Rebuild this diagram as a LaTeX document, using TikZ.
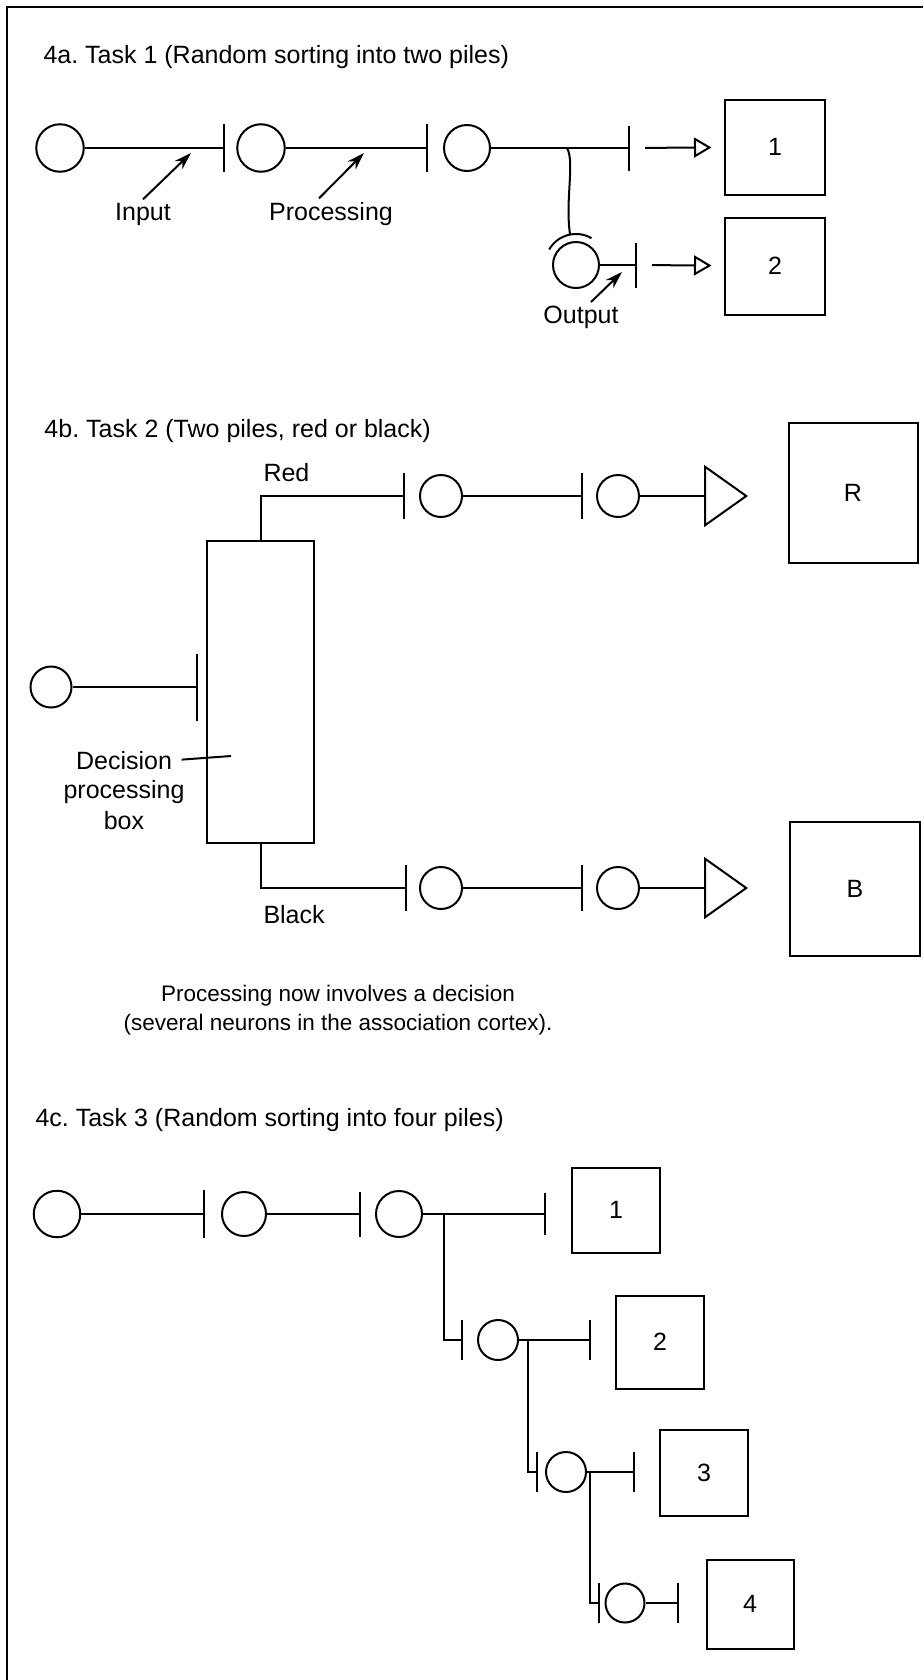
\documentclass[tikz,border=0pt]{standalone}
\usepackage{fontspec}
\setmainfont{Liberation Sans}
\usetikzlibrary{arrows.meta}

\tikzset{
  neuron/.style={circle, draw, minimum size=#1, inner sep=0pt},
  neuron/.default=18.4pt,
  pile/.style={draw, inner sep=0pt, font=\fontsize{10}{12}\selectfont},
  syn/.style={-{Bar[width=#1]}},
  syn/.default=18.4pt,
  fire/.style={-{Triangle[open, length=7pt, width=8pt]}, shorten <=6pt, shorten >=5pt},
  amp/.style={-{Triangle[open, length=17.6pt, width=24.8pt]}},
  pointer/.style={-{Stealth[length=7pt, width=4.5pt]}},
  lab/.style={font=\fontsize{10}{12}\selectfont, inner sep=1pt},
  heading/.style={lab, anchor=base west},
}

\begin{document}
\begin{tikzpicture}[x=0.4pt, y=-0.4pt, line width=0.8pt]
    \useasboundingbox (0,0) rectangle (923,1680);
    % Frame
    \draw[line width=1.1pt] (7,1680) -- (7,7) -- (923,7);

    % 4a: two piles
    \node[heading] (heada) at (40,63) {4a.\ Task 1 (Random sorting into two piles)};
    \node[neuron=19pt] (a1) at (60,148) {};
    \node[neuron=19pt] (a2) at (261,148) {};
    \node[neuron=18.4pt] (a3) at (467,148) {};
    \node[neuron=18.4pt] (a4) at (576,265) {};
    \coordinate (sa1) at (225,148);
    \coordinate (sa2) at (428,148);
    \coordinate (sa3) at (630,148);
    \coordinate (sa4) at (637,265);
    \coordinate (bra) at (567,148);
    \node[pile, minimum width=40pt, minimum height=38pt] (pa1) at (775,147) {1};
    \node[pile, minimum width=40pt, minimum height=38.8pt] (pa2) at (775,266) {2};
    \draw[syn=19.2pt] (a1) -- (sa1);
    \draw[syn=19.2pt] (a2) -- (sa2);
    \draw[syn=18pt] (a3) -- (sa3);
    \draw[syn=18pt] (a4) -- (sa4);
    \draw[fire] (sa3) -- (pa1);
    \draw[fire] (sa4) -- (pa2);
    % collateral onto the second output cell
    \draw (bra) .. controls (575,162) and (565,200) .. (570,234);
    \draw ([shift={(-150:31)}]a4.center) arc[start angle=-150, end angle=-60, radius=31];

    \node[lab, anchor=base] (lin) at (143,220) {Input};
    \node[lab, anchor=base] (lproc) at (331,220) {Processing};
    \node[lab, anchor=base] (lout) at (581,323) {Output};
    \coordinate (hin) at (191,153);
    \coordinate (hproc) at (364,153);
    \coordinate (hout) at (622,272);
    \draw[pointer] (lin.north) -- (hin);
    \draw[pointer] ([xshift=-4.8pt]lproc.north) -- (hproc);
    \draw[pointer] ([xshift=4pt]lout.north) -- (hout);

    % 4b: red or black
    \node[heading] (headb) at (41,437) {4b.\ Task 2 (Two piles, red or black)};
    \node[draw, minimum width=42.8pt, minimum height=120.8pt] (dbox) at (260.5,692) {};
    \node[neuron=16.4pt] (bin) at (51,687) {};
    \coordinate (sbin) at (198,687);
    \draw[syn=26.8pt] (bin) -- (sbin);

    \node[lab, anchor=base west] (lred) at (260,481) {Red};
    \coordinate (sr1) at (405,496);
    \node[neuron=16.8pt] (r1) at (441,496) {};
    \coordinate (sr2) at (583,496);
    \node[neuron=16.8pt] (r2) at (618,496) {};
    \coordinate (tipr) at (748,496);
    \node[pile, minimum width=51.6pt, minimum height=56pt] (pr) at (853,493) {R};
    \draw[syn] (dbox.north) |- (sr1);
    \draw[syn] (r1) -- (sr2);
    \draw[amp] (r2) -- (tipr);

    \node[lab, anchor=base west] (lblack) at (260,923) {Black};
    \coordinate (sb1) at (407,888);
    \node[neuron=16.8pt] (b1) at (441,888) {};
    \coordinate (sb2) at (583,888);
    \node[neuron=16.8pt] (b2) at (618,888) {};
    \coordinate (tipb) at (748,888);
    \node[pile, minimum width=52pt, minimum height=53.6pt] (pb) at (855,889) {B};
    \draw[syn] (dbox.south) |- (sb1);
    \draw[syn] (b1) -- (sb2);
    \draw[amp] (b2) -- (tipb);

    \node[lab, anchor=base] (ldec) at (124,769) {Decision};
    \node[lab, anchor=base] (ldec2) at (124,798) {processing};
    \node[lab, anchor=base] (ldec3) at (124,829) {box};
    \coordinate (hdec) at (231,756);
    \draw[shorten <=2.5pt] (ldec.east) -- (hdec);

    \node[lab, font=\fontsize{9}{11.6}\selectfont, align=center] (note) at (338,1010)
      {Processing now involves a decision\\(several neurons in the association cortex).};

    % 4c: four piles
    \node[heading] (headc) at (32,1126) {4c.\ Task 3 (Random sorting into four piles)};
    \node[neuron=18.6pt] (c1) at (57,1214) {};
    \node[neuron=17.6pt] (c2) at (244,1214) {};
    \node[neuron=18.4pt] (c3) at (399,1214) {};
    \node[neuron=16pt] (c4) at (498,1340) {};
    \node[neuron=16pt] (c5) at (566,1472) {};
    \node[neuron=15.6pt] (c6) at (625,1603) {};
    \coordinate (sc1) at (205,1214);
    \coordinate (sc2) at (361,1214);
    \coordinate (sc3) at (546,1214);
    \coordinate (sc4) at (463,1340);
    \coordinate (sc5) at (591,1340);
    \coordinate (sc6) at (538,1472);
    \coordinate (sc7) at (635,1472);
    \coordinate (sc8) at (600,1603);
    \coordinate (sc9) at (679,1603);
    \coordinate (brc1) at (444,1214);
    \coordinate (brc2) at (528,1340);
    \coordinate (brc3) at (590,1472);
    \node[pile, minimum width=35.2pt, minimum height=34pt] (pc1) at (616,1210) {1};
    \node[pile, minimum width=35.2pt, minimum height=37.2pt] (pc2) at (660,1342) {2};
    \node[pile, minimum width=35.2pt, minimum height=34.4pt] (pc3) at (704,1473) {3};
    \node[pile, minimum width=34.8pt, minimum height=35.6pt] (pc4) at (750,1604) {4};
    \draw[syn=19pt] (c1) -- (sc1);
    \draw[syn=18pt] (c2) -- (sc2);
    \draw[syn=17pt] (c3) -- (sc3);
    \draw[syn=16pt] (brc1) |- (sc4);
    \draw[syn=16pt] (c4) -- (sc5);
    \draw[syn=16pt] (brc2) |- (sc6);
    \draw[syn=16pt] (c5) -- (sc7);
    \draw[syn=16pt] (brc3) |- (sc8);
    \draw[syn=16pt] (c6) -- (sc9);
\end{tikzpicture}
\end{document}
